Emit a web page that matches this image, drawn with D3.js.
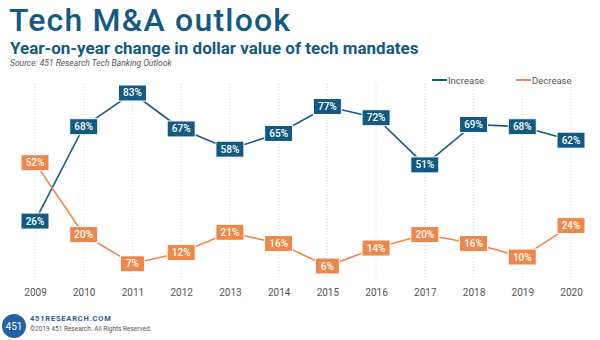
<!DOCTYPE html>
<html>
<head>
<meta charset="utf-8">
<script src="https://cdn.jsdelivr.net/npm/d3@7"></script>
<style>
  body { margin: 0; background: #fff; }
  svg { display: block; font-family: "Roboto", "Liberation Sans", sans-serif; }
</style>
</head>
<body>
<div id="chart"></div>
<script>
// data
const years = ['2009', '2010', '2011', '2012', '2013', '2014', '2015', '2016', '2017', '2018', '2019', '2020'];
const increase = [26, 68, 83, 67, 58, 65, 77, 72, 51, 69, 68, 62];
const decrease = [52, 20, 7, 12, 21, 16, 6, 14, 20, 16, 10, 24];

const blue = '#135a83';
const orange = '#f0874a';

const width = 600, height = 340;
const svg = d3.select('#chart').append('svg')
    .attr('width', width)
    .attr('height', height);

// titles
svg.append('text')
    .attr('x', 9).attr('y', 31)
    .attr('fill', blue)
    .attr('font-size', 32).attr('font-weight', 500)
    .attr('letter-spacing', 1.2)
    .text('Tech M&A outlook');
svg.append('text')
    .attr('x', 10).attr('y', 54)
    .attr('fill', blue)
    .attr('font-size', 17).attr('font-weight', 700)
    .text('Year-on-year change in dollar value of tech mandates');
svg.append('text')
    .attr('x', 10).attr('y', 66)
    .attr('fill', '#555')
    .attr('font-size', 8.5).attr('font-style', 'italic')
    .text('Source: 451 Research Tech Banking Outlook');

const x = d3.scalePoint()
    .domain(years)
    .range([35, 571]);

const y = d3.scaleLinear()
    .domain([0, 100])
    .range([279.5, 54.8]);

// dotted vertical grid
svg.append('g')
    .selectAll('line')
    .data(years)
    .join('line')
    .attr('x1', d => x(d)).attr('x2', d => x(d))
    .attr('y1', 84).attr('y2', 279)
    .attr('stroke', '#d8d8d8')
    .attr('stroke-width', 1)
    .attr('stroke-dasharray', '1,2');

// x axis labels
svg.append('g')
    .attr('transform', 'translate(0,279)')
    .call(d3.axisBottom(x).tickSize(0).tickPadding(10))
    .call(g => g.select('.domain').remove())
    .call(g => g.selectAll('text')
        .attr('font-family', 'Roboto, sans-serif')
        .attr('font-size', 10)
        .attr('fill', '#555'));

const series = [
    { name: 'Increase', values: increase, color: blue },
    { name: 'Decrease', values: decrease, color: orange }
];

const line = d3.line()
    .x((d, i) => x(years[i]))
    .y(d => y(d));

series.forEach(s => {
    svg.append('path')
        .datum(s.values)
        .attr('fill', 'none')
        .attr('stroke', s.color)
        .attr('stroke-width', 1.6)
        .attr('d', line);
});

// value labels
series.forEach(s => {
    const lbl = svg.append('g')
        .selectAll('g')
        .data(s.values)
        .join('g')
        .attr('transform', (d, i) => `translate(${x(years[i])},${y(d)})`);
    lbl.append('rect')
        .attr('x', d => d < 10 ? -12 : -14)
        .attr('y', -8)
        .attr('width', d => d < 10 ? 24 : 28)
        .attr('height', 16)
        .attr('fill', s.color)
        .attr('stroke', '#fff')
        .attr('stroke-width', 1);
    lbl.append('text')
        .attr('text-anchor', 'middle')
        .attr('y', 3.5)
        .attr('fill', '#fff')
        .attr('font-size', 10)
        .attr('font-weight', 500)
        .text(d => d + '%');
});

// legend
const legend = svg.append('g')
    .selectAll('g')
    .data(series)
    .join('g')
    .attr('transform', (d, i) => `translate(${432 + i * 84},80)`);
legend.append('line')
    .attr('x1', 0).attr('x2', 15)
    .attr('stroke', d => d.color)
    .attr('stroke-width', 2);
legend.append('text')
    .attr('x', 16).attr('y', 3.5)
    .attr('font-size', 9.5)
    .attr('fill', '#555')
    .text(d => d.name);

// footer logo
const foot = svg.append('g');
foot.append('circle')
    .attr('cx', 14).attr('cy', 326).attr('r', 12)
    .attr('fill', '#1f63a4');
foot.append('text')
    .attr('x', 14).attr('y', 330)
    .attr('text-anchor', 'middle')
    .attr('fill', '#fff')
    .attr('font-size', 10)
    .text('451');
foot.append('text')
    .attr('x', 30).attr('y', 321)
    .attr('fill', '#1f5f95')
    .attr('font-size', 7.5).attr('font-weight', 700)
    .attr('letter-spacing', 0.8)
    .text('451RESEARCH.COM');
foot.append('text')
    .attr('x', 30).attr('y', 331)
    .attr('fill', '#555')
    .attr('font-size', 6.5)
    .text('©2019 451 Research. All Rights Reserved.');
</script>
</body>
</html>
